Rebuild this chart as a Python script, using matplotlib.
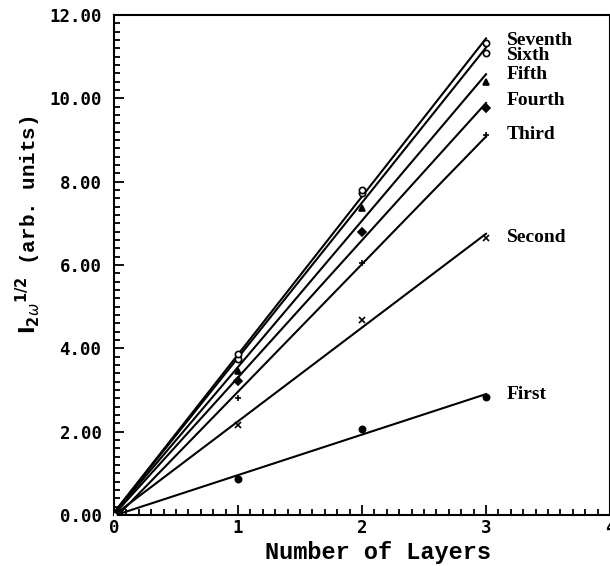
import matplotlib
matplotlib.use("Agg")
import matplotlib.pyplot as plt
import numpy as np
from matplotlib.ticker import MultipleLocator, FormatStrFormatter

# Data
layers = [0, 1, 2, 3]
series_names = ["First", "Second", "Third", "Fourth", "Fifth", "Sixth", "Seventh"]
first = [0.0, 0.87, 2.07, 2.84]
second = [0.0, 2.16, 4.68, 6.66]
third = [0.0, 2.80, 6.05, 9.12]
fourth = [0.0, 3.22, 6.80, 9.78]
fifth = [0.0, 3.46, 7.38, 10.40]
sixth = [0.0, 3.75, 7.72, 11.08]
seventh = [0.0, 3.87, 7.80, 11.33]
# where the name is written next to each line (y, data units)
label_y = [2.90, 6.65, 9.14, 9.94, 10.58, 11.02, 11.40]

all_series = [first, second, third, fourth, fifth, sixth, seventh]
markers = [
    dict(marker="o", mfc="black"),
    dict(marker="x", mfc="black"),
    dict(marker="+", mfc="black"),
    dict(marker="D", mfc="black"),
    dict(marker="^", mfc="black"),
    dict(marker="o", mfc="white"),
    dict(marker="o", mfc="white"),
]

fig = plt.figure(figsize=(6.1, 5.66), dpi=100)
ax = fig.add_axes([0.187, 0.090, 0.813, 0.8835])

x_fit = np.array([0, 3])
for name, ys, mk, ly in zip(series_names, all_series, markers, label_y):
    slope, icpt = np.polyfit(layers, ys, 1)
    ax.plot(x_fit, slope * x_fit + icpt, color="black", lw=1.5, zorder=2)
    ax.plot(layers, ys, linestyle="none", color="black", ms=4.5, mew=1.2,
            zorder=3, **mk)
    ax.text(3.17, ly, name, fontsize=14, fontweight="bold",
            family="Liberation Serif", va="center", ha="left")

ax.set_xlim(0, 4)
ax.set_ylim(0, 12)

ax.xaxis.set_major_locator(MultipleLocator(1))
ax.xaxis.set_minor_locator(MultipleLocator(0.1))
ax.yaxis.set_major_locator(MultipleLocator(2))
ax.yaxis.set_minor_locator(MultipleLocator(0.2))
ax.yaxis.set_major_formatter(FormatStrFormatter("%.2f"))
ax.tick_params(which="both", direction="in", width=1.3, color="black",
               top=False, right=False)
ax.tick_params(which="major", length=7)
ax.tick_params(which="minor", length=4)
ax.tick_params(axis="y", pad=9)
ax.tick_params(axis="x", pad=3)
for lbl in ax.get_xticklabels() + ax.get_yticklabels():
    lbl.set_family("DejaVu Sans Mono")
    lbl.set_fontweight("bold")
    lbl.set_fontsize(12.5)

for sp in ax.spines.values():
    sp.set_linewidth(1.5)

ax.set_xlabel("Number of Layers", family="Liberation Mono", fontweight="bold",
              fontsize=17)
ax.xaxis.set_label_coords(0.532, -0.052)
ax.set_ylabel(r"$\mathbf{I}_{\mathbf{2}\omega}{}^{\mathbf{1/2}}$ (arb. units)",
              family="Liberation Mono", fontweight="bold", fontsize=15)
ax.yaxis.set_label_coords(-0.143, 0.58)

fig.savefig("out.png", dpi=100)
